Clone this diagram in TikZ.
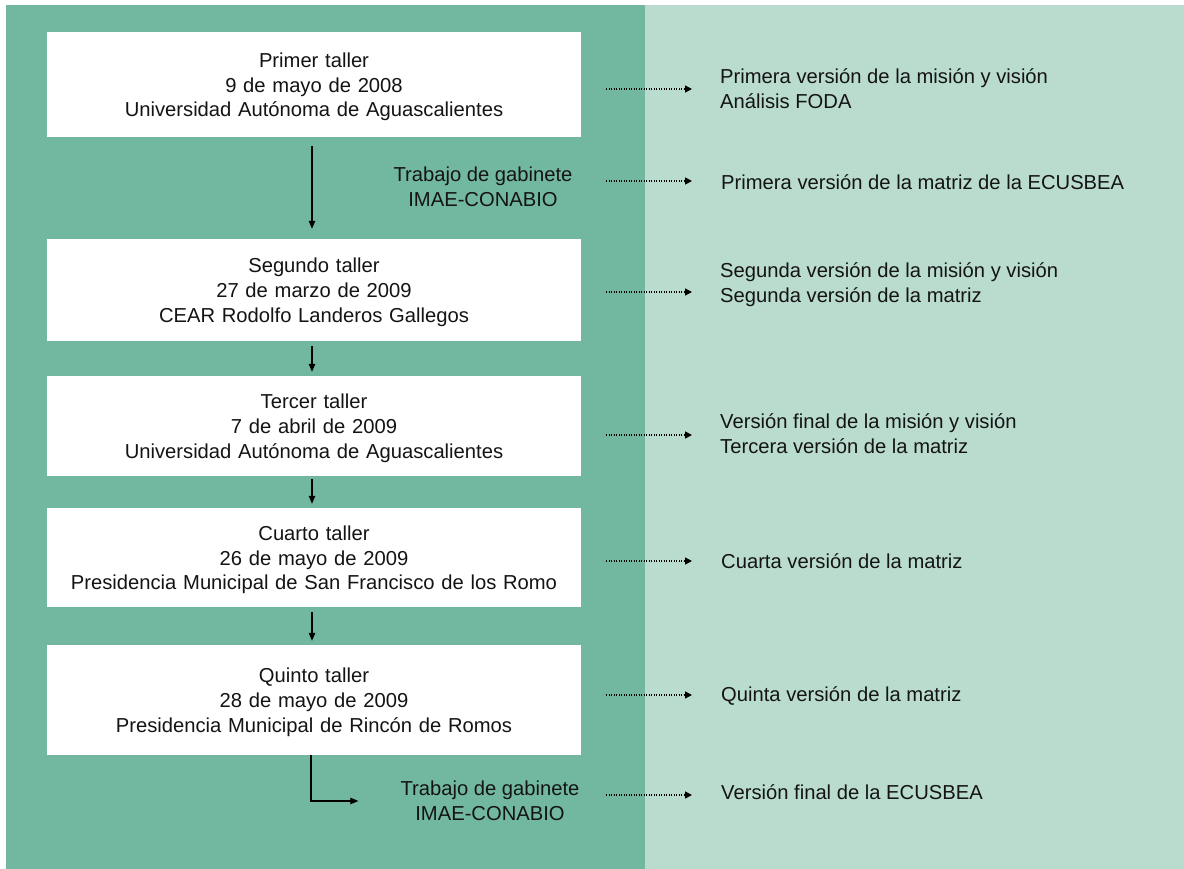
\documentclass[tikz,border=0pt]{standalone}
\usepackage{fontspec}
\setmainfont{Liberation Sans}
\usetikzlibrary{arrows.meta}
\definecolor{dgreen}{HTML}{72B8A0}
\definecolor{lgreen}{HTML}{BADCCF}
\begin{document}
\begin{tikzpicture}[x=1pt,y=-1pt,
  txt/.style={font=\fontsize{20.2}{24.8}\selectfont, inner sep=0pt, text=black!92},
  box/.style={txt, fill=white, minimum width=534pt, text width=530pt, align=center, execute at begin node={\rule{0pt}{19.5pt}}},
  gab/.style={txt, align=center},
  outtxt/.style={txt, anchor=west, align=left},
  arr/.style={line width=1.1pt, -{Triangle[length=8pt,width=6.5pt]}},
  dotarr/.style={line width=1.4pt, dash pattern=on 1.4pt off 1.1pt, -{Triangle[length=7pt,width=7pt]}}]
\useasboundingbox (0,0) rectangle (1184,869);
\fill[dgreen] (6,5) rectangle (645,869);
\fill[lgreen] (645,5) rectangle (1184,869);

\node[box, minimum height=105pt] (b1) at (314,84.5) {Primer taller\\9 de mayo de 2008\\Universidad Autónoma de Aguascalientes};
\node[gab] (g1) at (483,187) {Trabajo de gabinete\\IMAE-CONABIO};
\node[box, minimum height=102pt] (b2) at (314,290) {Segundo taller\\27 de marzo de 2009\\CEAR Rodolfo Landeros Gallegos};
\node[box, minimum height=100pt] (b3) at (314,426) {Tercer taller\\7 de abril de 2009\\Universidad Autónoma de Aguascalientes};
\node[box, minimum height=99pt] (b4) at (314,557.5) {Cuarto taller\\26 de mayo de 2009\\Presidencia Municipal de San Francisco de los Romo};
\node[box, minimum height=110pt] (b5) at (314,700) {Quinto taller\\28 de mayo de 2009\\Presidencia Municipal de Rincón de Romos};
\node[gab] (g2) at (490,801) {Trabajo de gabinete\\IMAE-CONABIO};

\node[outtxt] (o1) at (720,88.5) {Primera versión de la misión y visión\\Análisis FODA};
\node[outtxt] (o2) at (721,182) {Primera versión de la matriz de la ECUSBEA};
\node[outtxt] (o3) at (720,285) {Segunda versión de la misión y visión\\Segunda versión de la matriz};
\node[outtxt] (o4) at (720,433.5) {Versión final de la misión y visión\\Tercera versión de la matriz};
\node[outtxt] (o5) at (721,561) {Cuarta versión de la matriz};
\node[outtxt] (o6) at (721,696) {Quinta versión de la matriz};
\node[outtxt] (o7) at (721,792) {Versión final de la ECUSBEA};

\draw[arr, shorten <=9pt, shorten >=10pt] ([xshift=-2pt]b1.south) -- ([xshift=-2pt]b2.north);
\draw[arr, shorten <=5pt, shorten >=4pt] ([xshift=-2pt]b2.south) -- ([xshift=-2pt]b3.north);
\draw[arr, shorten <=3pt, shorten >=4pt] ([xshift=-2pt]b3.south) -- ([xshift=-2pt]b4.north);
\draw[arr, shorten <=5pt, shorten >=4pt] ([xshift=-2pt]b4.south) -- ([xshift=-2pt]b5.north);
\draw[arr] ([xshift=-3pt]b5.south) |- ([xshift=-42pt,yshift=0pt]g2.west);

\foreach \i/\y in {1/89,2/181,3/292,4/435,5/561,6/695,7/795}{
  \coordinate (s\i) at (606,\y);
  \coordinate (t\i) at (692,\y);
  \draw[dotarr] (s\i) -- (t\i);
}
\end{tikzpicture}
\end{document}
